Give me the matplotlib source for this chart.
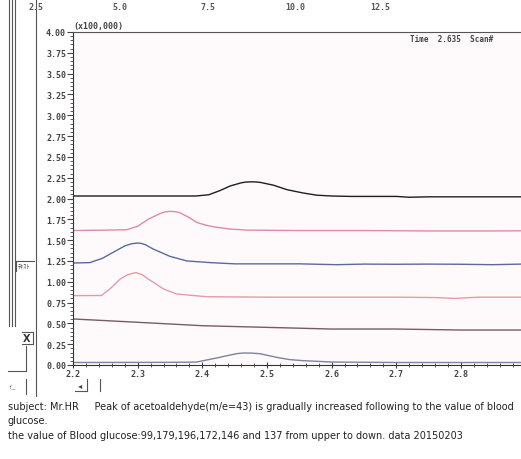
import matplotlib
matplotlib.use("Agg")
import matplotlib.pyplot as plt
from matplotlib.lines import Line2D
from matplotlib.ticker import MultipleLocator, FormatStrFormatter

W, H = 521, 460

# ---- data (retention time, intensity x100,000) ----
x_a = [2.20, 2.30, 2.39, 2.41, 2.427, 2.443, 2.46, 2.467, 2.475, 2.483, 2.49, 2.51, 2.531, 2.556, 2.577, 2.60, 2.63, 2.70, 2.72, 2.75, 2.80, 2.85, 2.893]
y_a = [2.03, 2.03, 2.03, 2.045, 2.094, 2.15, 2.188, 2.197, 2.20, 2.199, 2.193, 2.16, 2.106, 2.066, 2.04, 2.03, 2.025, 2.025, 2.015, 2.02, 2.02, 2.02, 2.02]

x_b = [2.20, 2.25, 2.283, 2.30, 2.317, 2.335, 2.342, 2.35, 2.358, 2.365, 2.38, 2.391, 2.405, 2.422, 2.443, 2.47, 2.55, 2.65, 2.75, 2.85, 2.893]
y_b = [1.615, 1.62, 1.625, 1.666, 1.754, 1.82, 1.838, 1.846, 1.842, 1.83, 1.77, 1.714, 1.68, 1.654, 1.633, 1.62, 1.615, 1.615, 1.61, 1.61, 1.612]

x_c = [2.20, 2.226, 2.245, 2.262, 2.28, 2.29, 2.299, 2.306, 2.312, 2.324, 2.35, 2.376, 2.412, 2.45, 2.55, 2.608, 2.65, 2.70, 2.75, 2.80, 2.85, 2.893]
y_c = [1.225, 1.23, 1.28, 1.353, 1.43, 1.455, 1.465, 1.46, 1.445, 1.393, 1.305, 1.25, 1.23, 1.215, 1.215, 1.205, 1.212, 1.21, 1.212, 1.21, 1.205, 1.212]

x_d = [2.20, 2.244, 2.257, 2.273, 2.285, 2.297, 2.307, 2.314, 2.34, 2.36, 2.407, 2.50, 2.60, 2.70, 2.76, 2.79, 2.83, 2.893]
y_d = [0.833, 0.835, 0.913, 1.033, 1.085, 1.11, 1.085, 1.045, 0.913, 0.853, 0.82, 0.815, 0.815, 0.815, 0.81, 0.80, 0.815, 0.815]

x_e = [2.20, 2.30, 2.40, 2.50, 2.60, 2.70, 2.80, 2.893]
y_e = [0.553, 0.513, 0.472, 0.452, 0.432, 0.432, 0.42, 0.42]

x_f = [2.20, 2.35, 2.391, 2.427, 2.443, 2.455, 2.464, 2.475, 2.489, 2.515, 2.535, 2.556, 2.60, 2.70, 2.80, 2.893]
y_f = [0.03, 0.032, 0.035, 0.092, 0.12, 0.138, 0.144, 0.143, 0.136, 0.092, 0.065, 0.052, 0.036, 0.03, 0.03, 0.03]

traces = [(x_a, y_a, "#1e1e1e"), (x_b, y_b, "#e08aa8"), (x_c, y_c, "#5a6a9e"),
          (x_d, y_d, "#e59aa8"), (x_e, y_e, "#7a5a60"), (x_f, y_f, "#7c82a0")]

top_labels = ["2.5", "5.0", "7.5", "10.0", "12.5"]
top_label_px = [36, 120, 208, 295, 380]

caption = ["subject: Mr.HR     Peak of acetoaldehyde(m/e=43) is gradually increased following to the value of blood",
           "glucose.",
           "the value of Blood glucose:99,179,196,172,146 and 137 from upper to down. data 20150203"]

# ---- figure ----
fig = plt.figure(figsize=(W / 100, H / 100), dpi=100)
fig.patch.set_facecolor("white")

def fx(px):
    return px / W

def fy(py):
    return 1 - py / H

ax = fig.add_axes([fx(73), fy(366), fx(521) - fx(73), fy(33) - fy(366)])
ax.set_facecolor("#fefafb")
for xs, ys, c in traces:
    ax.plot(xs, ys, color=c, lw=1.0, solid_joinstyle="round")

ax.set_xlim(2.2, 2.893)
ax.set_ylim(0, 4.0)
ax.xaxis.set_major_locator(MultipleLocator(0.1))
ax.xaxis.set_minor_locator(MultipleLocator(0.02))
ax.yaxis.set_major_locator(MultipleLocator(0.25))
ax.yaxis.set_minor_locator(MultipleLocator(0.05))
ax.yaxis.set_major_formatter(FormatStrFormatter("%.2f"))
ax.xaxis.set_major_formatter(FormatStrFormatter("%.1f"))

mono = "DejaVu Sans Mono"
for lab in ax.get_xticklabels() + ax.get_yticklabels():
    lab.set_fontfamily(mono)
    lab.set_fontweight("bold")
ax.tick_params(axis="y", which="major", length=4, width=0.8, labelsize=6, colors="#444", pad=1)
ax.tick_params(axis="y", which="minor", length=2.5, width=0.6, colors="#444")
ax.tick_params(axis="x", which="major", length=4, width=0.8, labelsize=6, colors="#444", pad=1, direction="inout")
ax.tick_params(axis="x", which="minor", length=2.5, width=0.6, colors="#444", direction="inout")

ax.spines["right"].set_visible(False)
ax.spines["top"].set_color("#555")
ax.spines["top"].set_linewidth(0.8)
ax.spines["left"].set_color("#333")
ax.spines["bottom"].set_color("#333")

ax.text(0.0, 1.005, "(x100,000)", transform=ax.transAxes, fontsize=6, family=mono,
        fontweight="bold", color="#444", va="bottom", ha="left")
fig.text(fx(410), fy(40), "Time  2.635  Scan#", fontsize=5.5, family=mono, fontweight="bold",
         color="#444", va="center", ha="left")

for lab, px in zip(top_labels, top_label_px):
    fig.text(fx(px), fy(8), lab, fontsize=6, family=mono, fontweight="bold",
             color="#555", ha="center", va="center")

# ---- left-hand window artefacts ----
def vline(x, y0, y1, lw=0.8, c="#555"):
    fig.add_artist(Line2D([fx(x), fx(x)], [fy(y0), fy(y1)], lw=lw, color=c))

def hline(y, x0, x1, lw=0.8, c="#555"):
    fig.add_artist(Line2D([fx(x0), fx(x1)], [fy(y), fy(y)], lw=lw, color=c))

for xv in (9, 11.5, 14.5):
    vline(xv, 0, 327)
vline(35.5, 0, 397)
hline(262, 15, 34)
vline(16, 262, 272)
fig.text(fx(18), fy(267), "ﾃｷｽﾄ", fontsize=4.5, family=["Noto Sans CJK JP", "DejaVu Sans"],
         color="#444", va="center", ha="left")
hline(333, 22, 33)
vline(33, 333, 345)
hline(345, 22, 33)
fig.text(fx(27), fy(339), "X", fontsize=7, fontweight="bold", color="#333", ha="center", va="center")
vline(26, 347, 372)
hline(372, 8, 26)
vline(26, 380, 395)
fig.text(fx(9), fy(387), "ｨ_", fontsize=5, family=["Noto Sans CJK JP", "DejaVu Sans"],
         color="#555", ha="left", va="center")
fig.text(fx(80), fy(386), "◂", fontsize=6, color="#444", ha="center", va="center")
vline(87, 380, 392)
hline(392, 75, 87)
vline(100, 380, 392)

# ---- caption ----
for i, line in enumerate(caption):
    fig.text(fx(8), fy(407 + i * 14.5), line, fontsize=7.0, family="DejaVu Sans",
             color="#222", ha="left", va="center")

fig.savefig("out.png", dpi=100)
